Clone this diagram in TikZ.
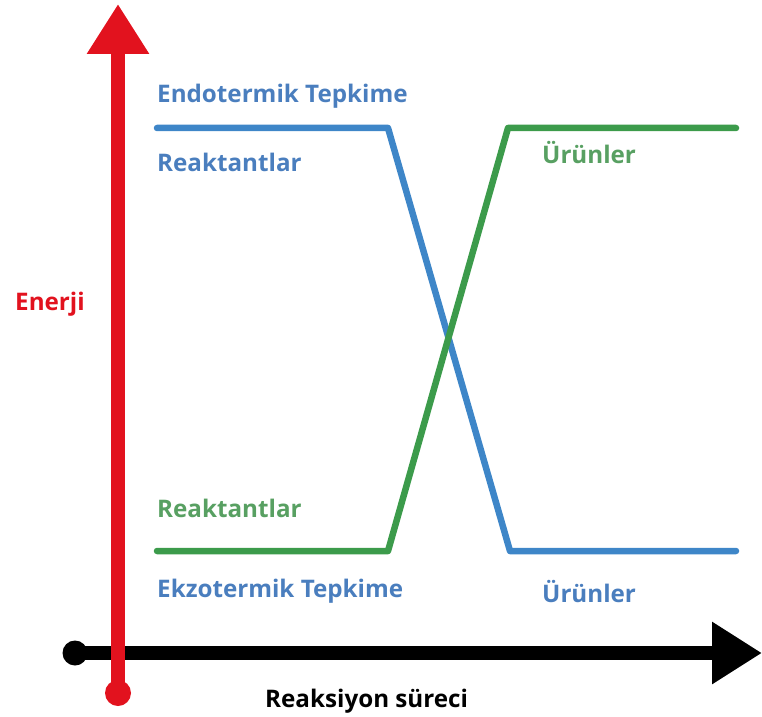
\documentclass[tikz,border=0pt]{standalone}
\usepackage{fontspec}
\setmainfont{Open Sans}
\usetikzlibrary{arrows.meta}
\definecolor{lineblue}{RGB}{62,134,200}
\definecolor{textblue}{RGB}{74,126,190}
\definecolor{linegreen}{RGB}{60,155,75}
\definecolor{textgreen}{RGB}{88,160,98}
\definecolor{axisred}{RGB}{226,18,30}
\tikzset{
  lbl/.style={font=\fontsize{24.2}{29}\selectfont\bfseries, anchor=base west, inner sep=0pt},
  curve/.style={line width=6.5pt, line cap=round, line join=round},
  axis/.style={line width=14pt, -{Triangle[width=59pt,length=50pt]}}
}
\begin{document}
\begin{tikzpicture}[x=1pt,y=1pt]
\useasboundingbox (0,0) rectangle (762,716);
% axes
\coordinate (xs) at (75,63);
\coordinate (xe) at (762,63);
\coordinate (ys) at (118,23);
\coordinate (ye) at (118,712);
\draw[axis] (xs) -- (xe);
\fill (xs) circle (12.5);
\draw[axis, axisred] (ys) -- (ye);
\fill[axisred] (ys) circle (13);
% curves
\coordinate (b1) at (157,588);
\coordinate (b2) at (388,588);
\coordinate (b3) at (510,165);
\coordinate (b4) at (736,165);
\coordinate (g1) at (157,165);
\coordinate (g2) at (388,165);
\coordinate (g3) at (508,588);
\coordinate (g4) at (736,588);
\draw[curve, lineblue] (b1) -- (b2) -- (b3) -- (b4);
\draw[curve, linegreen] (g1) -- (g2) -- (g3) -- (g4);
% labels
\node[lbl, textblue] (endo) at (157,613) {Endotermik Tepkime};
\node[lbl, textblue] (reb) at (157,544) {Reaktantlar};
\node[lbl, textgreen] (urg) at (542,552) {Ürünler};
\node[lbl, axisred] (en) at (15,406) {Enerji};
\node[lbl, textgreen] (reg) at (157,199) {Reaktantlar};
\node[lbl, textblue] (ekzo) at (157,119) {Ekzotermik Tepkime};
\node[lbl, textblue] (urb) at (542,114) {Ürünler};
\node[lbl, black] (rs) at (265,9) {Reaksiyon süreci};
\end{tikzpicture}
\end{document}
